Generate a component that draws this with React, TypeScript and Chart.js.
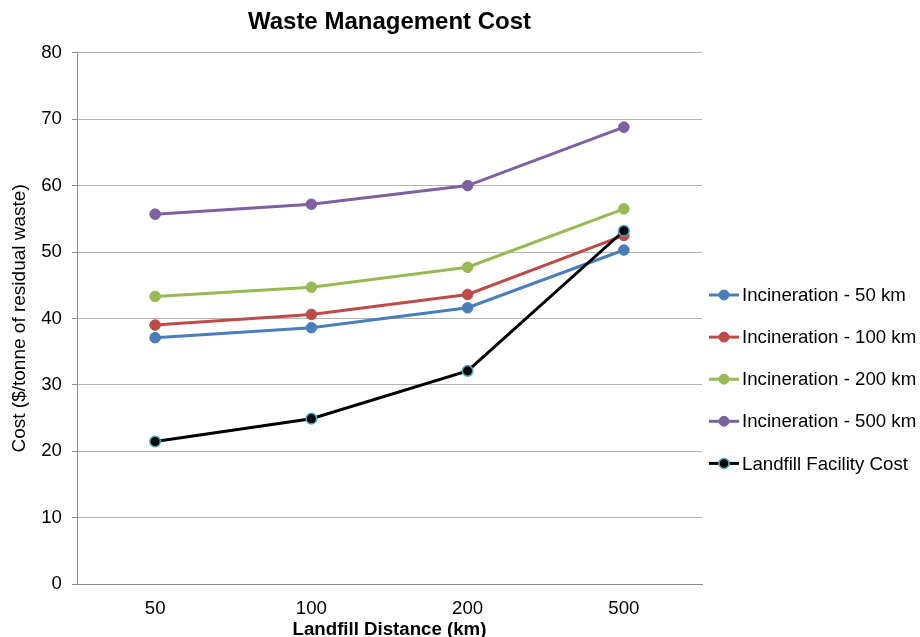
import React, { useEffect, useRef } from "react";
import { Chart, registerables } from "chart.js";

Chart.register(...registerables);

// Landfill distance categories (km)
const distances = ["50", "100", "200", "500"];

// Cost in $/tonne of residual waste
const incineration50 = [37.1, 38.6, 41.6, 50.3];
const incineration100 = [39.0, 40.6, 43.6, 52.5];
const incineration200 = [43.3, 44.7, 47.7, 56.5];
const incineration500 = [55.7, 57.2, 60.0, 68.8];
const landfillCost = [21.45, 24.9, 32.1, 53.2];

const seriesNames = [
  "Incineration - 50 km",
  "Incineration - 100 km",
  "Incineration - 200 km",
  "Incineration - 500 km",
  "Landfill Facility Cost",
];
const seriesValues = [incineration50, incineration100, incineration200, incineration500, landfillCost];
const lineColors = ["#4A7EBB", "#BE4B48", "#98B954", "#7D60A0", "#000000"];
const markerEdges = ["#4A7EBB", "#BE4B48", "#98B954", "#7D60A0", "#4BACC6"];

const FONT = "'Liberation Sans', Arial, Helvetica, sans-serif";

// Vertical legend to the right of the plot: short line with a marker, then the name
const sideLegend = {
  id: "sideLegend",
  afterDraw(chart: any) {
    const { ctx, chartArea } = chart;
    const x0 = chartArea.right + 7;
    const top = 295;
    const gap = 42.1;
    ctx.save();
    ctx.font = `18.67px ${FONT}`;
    ctx.textBaseline = "middle";
    ctx.textAlign = "left";
    chart.data.datasets.forEach((ds: any, i: number) => {
      const y = top + i * gap;
      ctx.strokeStyle = ds.borderColor;
      ctx.lineWidth = 3;
      ctx.beginPath();
      ctx.moveTo(x0, y);
      ctx.lineTo(x0 + 30, y);
      ctx.stroke();
      ctx.beginPath();
      ctx.arc(x0 + 15, y, 5, 0, Math.PI * 2);
      ctx.fillStyle = ds.pointBackgroundColor;
      ctx.fill();
      ctx.lineWidth = ds.pointBorderWidth;
      ctx.strokeStyle = ds.pointBorderColor;
      ctx.stroke();
      ctx.fillStyle = "#000";
      ctx.fillText(ds.label, x0 + 33, y + 1);
    });
    ctx.restore();
  },
};

export default function App() {
  const canvasRef = useRef<HTMLCanvasElement | null>(null);

  useEffect(() => {
    if (!canvasRef.current) return;
    const n = seriesNames.length;
    const chart = new Chart(canvasRef.current, {
      type: "line",
      data: {
        labels: distances,
        datasets: seriesNames.map((name, i) => ({
          label: name,
          data: seriesValues[i],
          borderColor: lineColors[i],
          backgroundColor: lineColors[i],
          borderWidth: 3,
          pointRadius: 5.3,
          pointHoverRadius: 5.3,
          pointBackgroundColor: lineColors[i],
          pointBorderColor: markerEdges[i],
          pointBorderWidth: i === n - 1 ? 1.5 : 1,
          tension: 0,
          fill: false,
          // later series are painted on top
          order: n - i,
        })),
      },
      options: {
        animation: false,
        responsive: true,
        maintainAspectRatio: false,
        layout: { padding: { left: 0, right: 218, top: 0, bottom: 0 } },
        plugins: {
          legend: { display: false },
          tooltip: { enabled: false },
          title: {
            display: true,
            text: "Waste Management Cost",
            fullSize: false,
            color: "#000",
            font: { family: FONT, size: 24, weight: "bold" },
            padding: { top: 8, bottom: 16 },
          },
        },
        scales: {
          x: {
            type: "category",
            offset: true,
            grid: { display: false },
            border: { display: true, color: "#8C8C8C", width: 1 },
            ticks: {
              color: "#000",
              padding: 6,
              font: { family: FONT, size: 18.67 },
            },
            title: {
              display: true,
              text: "Landfill Distance (km)",
              color: "#000",
              font: { family: FONT, size: 18.67, weight: "bold" },
              padding: { top: 0, bottom: -4 },
            },
            afterFit: (scale: any) => {
              scale.height = 53;
            },
          },
          y: {
            min: 0,
            max: 80,
            ticks: {
              stepSize: 10,
              color: "#000",
              padding: 10,
              font: { family: FONT, size: 18.67 },
            },
            grid: {
              color: "#B3B3B3",
              lineWidth: 1,
              drawTicks: true,
              tickLength: 5,
              tickColor: "#8C8C8C",
            },
            border: { display: true, color: "#8C8C8C", width: 1 },
            title: {
              display: true,
              text: "Cost ($/tonne of residual waste)",
              color: "#000",
              font: { family: FONT, size: 19 },
              padding: { top: 8, bottom: 0 },
            },
            afterFit: (scale: any) => {
              scale.width = 77;
            },
          },
        },
      },
      plugins: [sideLegend],
    });
    return () => chart.destroy();
  }, []);

  return (
    <div style={{ position: "fixed", left: 0, top: 0, width: 920, height: 637, background: "#fff" }}>
      <canvas ref={canvasRef} />
    </div>
  );
}
